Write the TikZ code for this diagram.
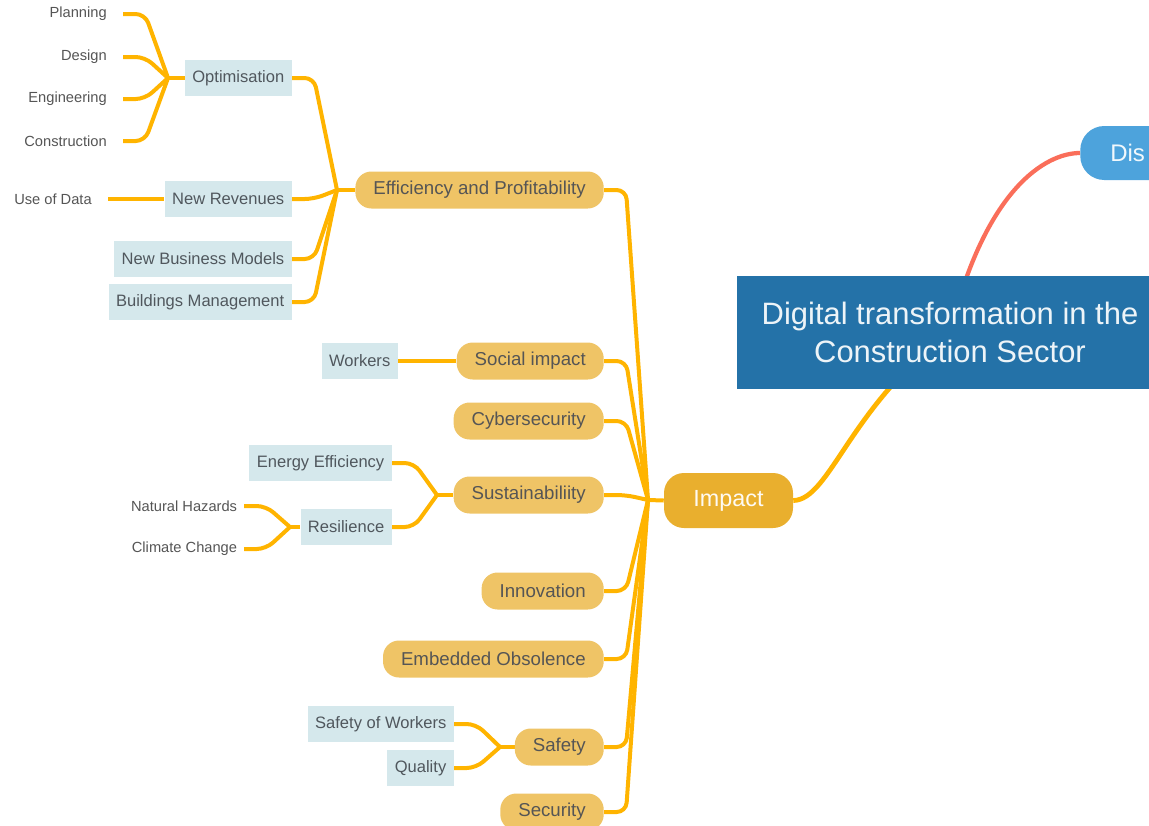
\documentclass[tikz,border=0pt]{standalone}
\usepackage{fontspec}
\setmainfont{Liberation Sans}
\pgfdeclarelayer{background}
\pgfsetlayers{background,main}
\definecolor{amber}{HTML}{FFB400}
\definecolor{rootblue}{HTML}{2472A8}
\definecolor{skyblue}{HTML}{4DA3DC}
\definecolor{salmon}{HTML}{FA6E5A}
\definecolor{impgold}{HTML}{E9AF2E}
\definecolor{topicfill}{HTML}{EFC466}
\definecolor{subfill}{HTML}{D5E8EC}
\definecolor{txtgray}{HTML}{555555}
\definecolor{subgray}{HTML}{50575D}

\begin{document}
\begin{tikzpicture}[x=0.75pt, y=-0.75pt,
    link/.style={amber, line width=3pt, rounded corners=7pt},
    topic/.style={fill=topicfill, text=txtgray, rounded corners=12pt, minimum height=27.75pt,
        inner xsep=13.5pt, font=\fontsize{14}{16}\selectfont, anchor=east},
    sub/.style={fill=subfill, text=subgray, minimum height=27pt, inner xsep=5.6pt,
        font=\fontsize{12.4}{14}\selectfont, anchor=east},
    leaf/.style={text=txtgray, inner xsep=5pt, font=\fontsize{11}{13}\selectfont, anchor=east}]
\useasboundingbox (0,0) rectangle (1149,825);

% central topic and main branches
\node[fill=rootblue, text=white!92!rootblue, minimum width=319.5pt, minimum height=84.75pt,
    align=center, font=\fontsize{23.2}{28.5}\selectfont] (root) at (950,332.5)
    {Digital transformation in the\\Construction Sector};
\node[fill=skyblue, text=white!92!skyblue, anchor=west, rounded corners=18pt, minimum height=40.5pt,
    text width=100pt, inner xsep=22.5pt, align=left, font=\fontsize{18}{20}\selectfont] (dis) at (1080,153) {Dis};
\node[fill=impgold, text=white!94!impgold, rounded corners=15pt, minimum width=96.75pt,
    minimum height=41.25pt, font=\fontsize{17.5}{20}\selectfont] (imp) at (728.5,500.5) {Impact};

% first level
\node[topic] (eff) at (604,190) {Efficiency and Profitability};
\node[topic] (soc) at (604,361) {Social impact};
\node[topic] (cyb) at (604,421) {Cybersecurity};
\node[topic] (sus) at (604,495) {Sustainabiliity};
\node[topic] (inn) at (604,591) {Innovation};
\node[topic] (emb) at (604,659) {Embedded Obsolence};
\node[topic] (saf) at (604,747) {Safety};
\node[topic] (sec) at (604,812) {Security};

% second level
\node[sub] (opt) at (292,78) {Optimisation};
\node[sub] (rev) at (292,199) {New Revenues};
\node[sub] (bus) at (292,259) {New Business Models};
\node[sub] (bld) at (292,302) {Buildings Management};
\node[sub] (wrk) at (398,361) {Workers};
\node[sub] (ene) at (392,463) {Energy Efficiency};
\node[sub] (res) at (392,527) {Resilience};
\node[sub] (sow) at (454,724) {Safety of Workers};
\node[sub] (qua) at (454,768) {Quality};

% third level
\node[leaf, inner xsep=12pt] (pla) at (123,14) {Planning};
\node[leaf, inner xsep=12pt] (des) at (123,57) {Design};
\node[leaf, inner xsep=12pt] (eng) at (123,99) {Engineering};
\node[leaf, inner xsep=12pt] (con) at (123,141) {Construction};
\node[leaf, inner xsep=12pt] (use) at (108,199) {Use of Data};
\node[leaf] (nat) at (244,506) {Natural Hazards};
\node[leaf] (cli) at (244,549) {Climate Change};

% junctions
\coordinate (jimp) at (648,500);
\coordinate (jeff) at (337,190);
\coordinate (jopt) at (168,78);
\coordinate (jsus) at (437,495);
\coordinate (jres) at (290,527);
\coordinate (jsaf) at (500,747);

\begin{pgfonlayer}{background}
\draw[salmon, line width=3.2pt] (dis.west) .. controls (1045,153) and (985,190) .. (root.center);
\draw[amber, line width=3.6pt] (imp.east) .. controls (830,500) and (850,405) .. (root.center);

\foreach \t in {eff,soc,cyb,sus,inn,emb,saf,sec}
    \draw[link] (\t.east) -- ++(22,0) -- (jimp);
\draw[link] (jimp) -- (imp.west);

\foreach \t in {opt,rev,bus,bld}
    \draw[link] (\t.east) -- ++(22,0) -- (jeff);
\draw[link] (jeff) -- (eff.west);

\foreach \t in {pla,des,eng,con}
    \draw[link] (\t.east) -- ++(22,0) -- (jopt);
\draw[link] (jopt) -- (opt.west);

\draw[link] (use.east) -- (rev.west);
\draw[link] (wrk.east) -- (soc.west);

\foreach \t in {ene,res}
    \draw[link] (\t.east) -- ++(22,0) -- (jsus);
\draw[link] (jsus) -- (sus.west);

\foreach \t in {nat,cli}
    \draw[link] (\t.east) -- ++(22,0) -- (jres);
\draw[link] (jres) -- (res.west);

\foreach \t in {sow,qua}
    \draw[link] (\t.east) -- ++(22,0) -- (jsaf);
\draw[link] (jsaf) -- (saf.west);
\end{pgfonlayer}

\end{tikzpicture}
\end{document}
